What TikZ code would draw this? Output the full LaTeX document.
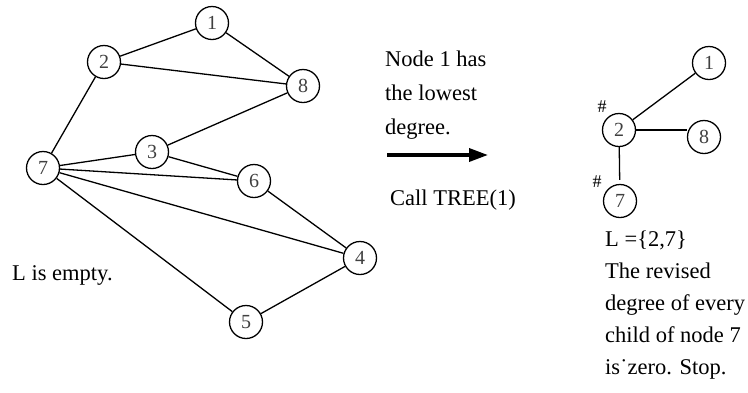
\documentclass[tikz,border=0pt]{standalone}
\usepackage{fontspec}
\setmainfont{Liberation Serif}
\usetikzlibrary{arrows.meta}
\begin{document}
\begin{tikzpicture}[x=1pt,y=-1pt,
  vtx/.style={circle,draw=black,line width=1.3pt,minimum size=33pt,inner sep=0pt,
    font=\fontsize{20}{20}\selectfont,text=black!75},
  edge/.style={line width=1.3pt},
  txt/.style={anchor=base west,inner sep=0pt,font=\fontsize{22.5}{24}\selectfont},
  hashmark/.style={inner sep=0pt,font=\fontsize{18}{18}\selectfont}]
\useasboundingbox (0,0) rectangle (748,392);
% left graph
\node[vtx] (n1) at (212,23) {1};
\node[vtx] (n2) at (104,62) {2};
\node[vtx] (n8) at (303,86) {8};
\node[vtx] (n3) at (152,152) {3};
\node[vtx] (n7) at (43,168) {7};
\node[vtx] (n6) at (254,181) {6};
\node[vtx] (n4) at (360,258) {4};
\node[vtx] (n5) at (246,322) {5};
\draw[edge] (n2) -- (n1);
\draw[edge] (n1) -- (n8);
\draw[edge] (n2) -- (n8);
\draw[edge] (n2) -- (n7);
\draw[edge] (n8) -- (n3);
\draw[edge] (n7) -- (n3);
\draw[edge] (n3) -- (n6);
\draw[edge] (n7) -- (n6);
\draw[edge] (n7) -- (n4);
\draw[edge] (n7) -- (n5);
\draw[edge] (n6) -- (n4);
\draw[edge] (n4) -- (n5);
\node[txt] (lempty) at (12,280) {L is empty.};
% middle
\node[txt] (m1) at (385,66) {Node 1 has};
\node[txt] (m2) at (385,100) {the lowest};
\node[txt] (m3) at (385,134) {degree.};
\coordinate (as) at (387,155);
\coordinate (ae) at (488,155);
\draw[line width=3.5pt,-{Triangle[length=19pt,width=13pt]}] (as) -- (ae);
\node[txt] (call) at (390,205.7) {Call TREE(1)};
% right tree
\node[vtx] (r1) at (709,63) {1};
\node[vtx] (r2) at (619,130) {2};
\node[vtx] (r8) at (704,137) {8};
\node[vtx] (r7) at (620,201) {7};
\draw[edge] (r2) -- (r1);
\draw[edge] (r2.east) -- (r2.east -| r8.west);
\draw[edge,shorten >=4pt] (r2) -- (r7);
\node[hashmark] (h2) at (602,107) {\#};
\node[hashmark] (h7) at (597,182) {\#};
\node[txt] (t1) at (605,246) {L =\{2,7\}};
\node[txt] (t2) at (605,278) {The revised};
\node[txt] (t3) at (605,310.7) {degree of every};
\node[txt] (t4) at (605,342.7) {child of node 7};
\node[txt] (t5) at (605,374) {is˙zero. Stop.};
\end{tikzpicture}
\end{document}
